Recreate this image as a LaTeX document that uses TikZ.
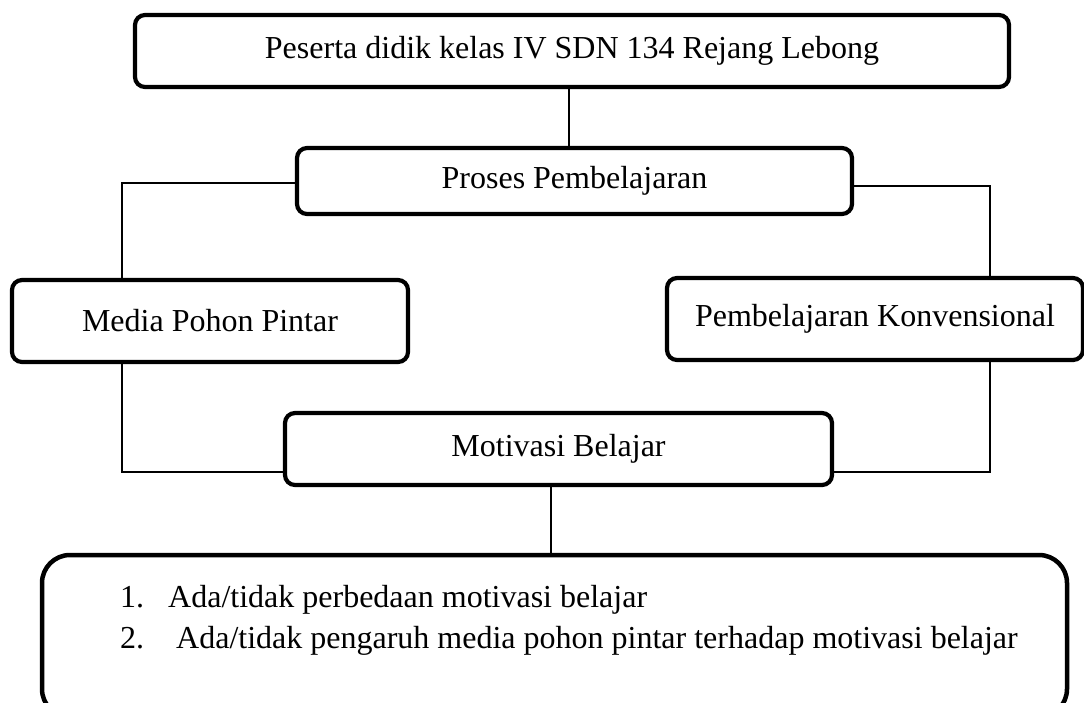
\documentclass[tikz,border=0pt]{standalone}
\usepackage{fontspec}
\setmainfont{Liberation Serif}
\begin{document}
\begin{tikzpicture}[x=1pt,y=-1pt,
  box/.style={draw=black,line width=4.2pt,rounded corners=10pt,fill=white,inner sep=0pt,
    font=\fontsize{32}{38}\selectfont},
  bigbox/.style={draw=black,line width=4.5pt,rounded corners=28pt,inner sep=0pt},
  conn/.style={draw=black,line width=1.5pt},
  txt/.style={inner sep=0pt,font=\fontsize{32}{38}\selectfont,anchor=base west}]
\useasboundingbox (0,0) rectangle (1084,702);
\clip (0,0) rectangle (1084,702);
% coordinates for connector corners
\coordinate (v1) at (569,0);
\coordinate (v2) at (551,0);
\coordinate (l1) at (122,183);
\coordinate (r1) at (990,186);
\coordinate (l2) at (122,472);
\coordinate (r2) at (990,472);
% nodes
\node[box,minimum width=874pt,minimum height=72pt] (top) at (572,51) {Peserta didik kelas IV SDN 134 Rejang Lebong};
\node[box,minimum width=555pt,minimum height=66pt] (pro) at (574.5,181) {Proses Pembelajaran};
\node[box,minimum width=396pt,minimum height=82pt] (med) at (210,321) {Media Pohon Pintar};
\node[box,minimum width=416pt,minimum height=82pt] (kon) at (875,319) {Pembelajaran Konvensional};
\node[box,minimum width=547pt,minimum height=72pt] (mot) at (558.5,449) {Motivasi Belajar};
\node[bigbox,minimum width=1025pt,minimum height=162pt] (res) at (554.5,636) {};
% connectors
\draw[conn] (v1 |- top.south) -- (v1 |- pro.north);
\draw[conn] (pro.west |- l1) -- (l1) -- (l1 |- med.north);
\draw[conn] (pro.east |- r1) -- (r1) -- (r1 |- kon.north);
\draw[conn] (l2 |- med.south) -- (l2) -- (mot.west |- l2);
\draw[conn] (r2 |- kon.south) -- (r2) -- (mot.east |- r2);
\draw[conn] (v2 |- mot.south) -- (v2 |- res.north);
% list text
\node[txt] (n1) at (120,607) {1.};
\node[txt] (t1) at (168,607) {Ada/tidak perbedaan motivasi belajar};
\node[txt] (n2) at (120,648) {2.};
\node[txt] (t2) at (176,648) {Ada/tidak pengaruh media pohon pintar terhadap motivasi belajar};
\end{tikzpicture}
\end{document}
